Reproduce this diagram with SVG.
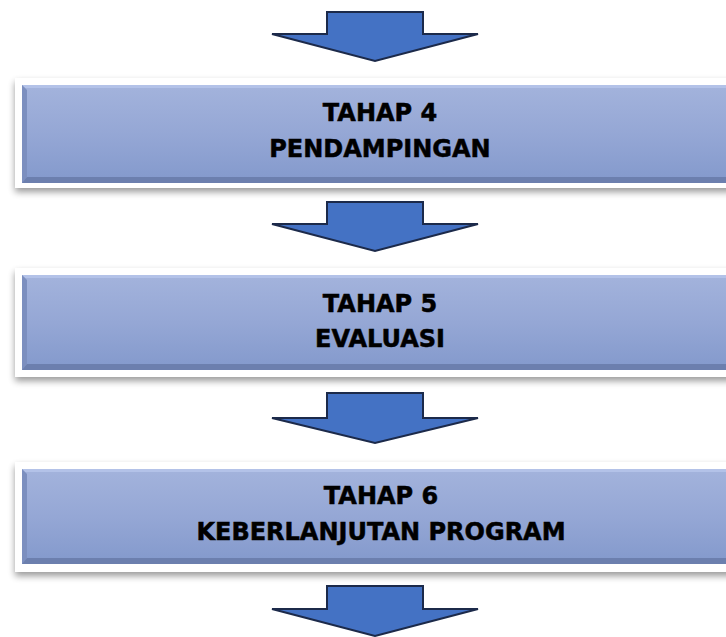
<svg xmlns="http://www.w3.org/2000/svg" width="726" height="637" viewBox="0 0 726 637">
<defs>
<linearGradient id="fill" x1="0" y1="0" x2="0" y2="1">
<stop offset="0" stop-color="#a3b3dc"/>
<stop offset="0.5" stop-color="#95a7d5"/>
<stop offset="1" stop-color="#8399cc"/>
</linearGradient>
<filter id="sh" x="-5%" y="-20%" width="110%" height="150%">
<feGaussianBlur in="SourceAlpha" stdDeviation="3.5"/>
<feOffset dx="0" dy="4" result="b"/>
<feComponentTransfer><feFuncA type="linear" slope="0.4"/></feComponentTransfer>
<feMerge><feMergeNode/><feMergeNode in="SourceGraphic"/></feMerge>
</filter>
</defs>
<style>
.frame{fill:#ffffff;filter:url(#sh)}
.face{fill:url(#fill)}
.top{fill:#b3c2e8}
.left{fill:#7c8fbf}
.bot{fill:#6c7fae}
.arrow{fill:#4472c4;stroke:#1c2a4a;stroke-width:2;stroke-linejoin:miter}
.t{font-family:"DejaVu Sans",sans-serif;font-weight:bold;font-size:24px;fill:#000;stroke:#000;stroke-width:0.5;text-anchor:middle}
</style>
<g id="connectors">
<polygon class="arrow" points="327,12 423,12 423,34 478,34 375,61 272,34 327,34"/>
<polygon class="arrow" points="327,202 423,202 423,224 478,224 375,251 272,224 327,224"/>
<polygon class="arrow" points="327,393 423,393 423,418 478,418 375,443 272,418 327,418"/>
<polygon class="arrow" points="327,586 423,586 423,609 478,609 375,636 272,609 327,609"/>
</g>
<g id="node-tahap4">
<rect class="frame" x="15" y="78" width="740" height="110"/>
<rect class="face" x="22" y="85" width="730" height="98"/>
<polygon class="top" points="22,85 752,85 752,88 25,88"/>
<polygon class="left" points="22,85 27,90 27,177 22,183"/>
<polygon class="bot" points="22,183 27,177 752,177 752,183"/>
<text class="t" x="380" y="121">TAHAP 4</text>
<text class="t" x="380" y="157">PENDAMPINGAN</text>
</g>
<g id="node-tahap5">
<rect class="frame" x="15" y="268" width="740" height="109"/>
<rect class="face" x="22" y="275" width="730" height="95"/>
<polygon class="top" points="22,275 752,275 752,278 25,278"/>
<polygon class="left" points="22,275 27,280 27,364 22,370"/>
<polygon class="bot" points="22,370 27,364 752,364 752,370"/>
<text class="t" x="380" y="312">TAHAP 5</text>
<text class="t" x="380" y="347">EVALUASI</text>
</g>
<g id="node-tahap6">
<rect class="frame" x="15" y="462" width="740" height="110"/>
<rect class="face" x="22" y="469" width="730" height="95"/>
<polygon class="top" points="22,469 752,469 752,472 25,472"/>
<polygon class="left" points="22,469 27,474 27,558 22,564"/>
<polygon class="bot" points="22,564 27,558 752,558 752,564"/>
<text class="t" x="381" y="504">TAHAP 6</text>
<text class="t" x="381" y="540">KEBERLANJUTAN PROGRAM</text>
</g>
</svg>
